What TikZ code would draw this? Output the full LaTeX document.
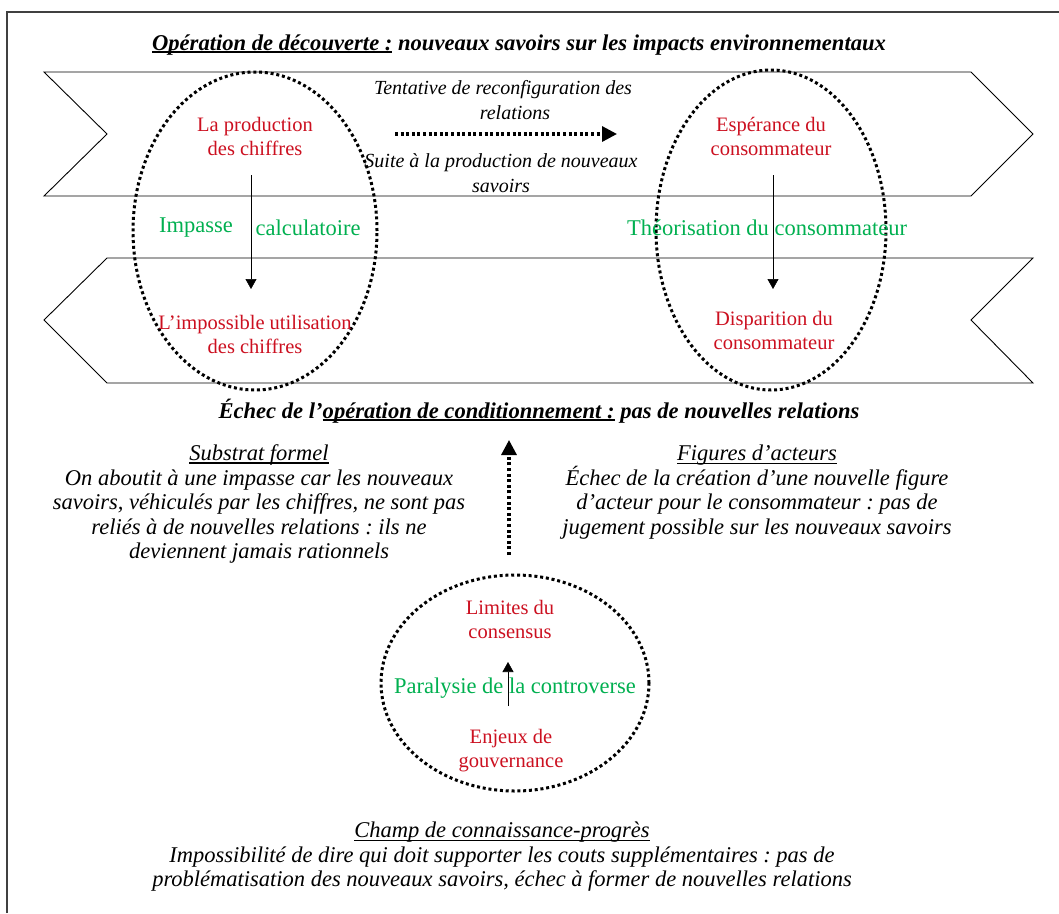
\documentclass[tikz,border=0pt]{standalone}
\usepackage{fontspec}
\setmainfont{Liberation Serif}
\usetikzlibrary{arrows.meta,shapes.geometric}
\definecolor{myred}{RGB}{204,16,32}
\definecolor{mygreen}{RGB}{0,176,80}
\newcommand{\myul}[2][1.1pt]{\leavevmode\setbox0\hbox{#2}\rlap{\rule[-3pt]{\wd0}{#1}}\box0\relax}
\begin{document}
\frenchspacing
\begin{tikzpicture}[x=1pt,y=-1pt,
  redtxt/.style={text=myred,font=\fontsize{20.5}{24}\selectfont,align=center,inner sep=0},
  greentxt/.style={text=mygreen,font=\fontsize{22.5}{24}\selectfont,inner sep=0},
  ittxt/.style={font=\fontsize{20}{24.5}\selectfont\itshape,align=center,inner sep=0},
  paratxt/.style={font=\fontsize{22.5}{24.5}\selectfont\itshape,align=center,inner sep=0},
  bolditxt/.style={font=\fontsize{22.6}{24}\selectfont\bfseries\itshape,inner sep=0},
  chev/.style={draw=black,line width=0.9pt},
  dotell/.style={draw=black,ellipse,line width=3pt,dash pattern=on 3pt off 2.8pt,inner sep=0,outer sep=0},
  arr/.style={line width=0.6pt,-{Triangle[length=10pt,width=11pt]}},
  dotarr/.style={line width=3.2pt,dash pattern=on 3pt off 2.6pt,-{Triangle[length=15pt,width=15pt]}},
  frameline/.style={draw=black!75,line width=1.6pt}
]
\useasboundingbox (0,0) rectangle (1059,913);
\fill[white] (0,0) rectangle (1059,913);
\draw[frameline] (7,913) -- (7,12) -- (1059,12);

% chevrons
\draw[chev] (44,72) -- (971,72) -- (1033,134) -- (971,196) -- (44,196) -- (107,134) -- cycle;
\draw[chev] (107,258) -- (1033,258) -- (971,320) -- (1033,383) -- (107,383) -- (44,320) -- cycle;

% dotted ellipses
\node[dotell,minimum width=244pt,minimum height=318pt] (ellL) at (255,231) {};
\node[dotell,minimum width=230pt,minimum height=320pt] (ellR) at (771,230) {};
\node[dotell,minimum width=268pt,minimum height=216pt] (ellB) at (515,683) {};

% title
\node[bolditxt] (title) at (519,45) {\myul[2pt]{Opération de découverte :} nouveaux savoirs sur les impacts environnementaux};

% top middle
\node[ittxt] (tentative) at (503,100) {Tentative de reconfiguration des\\relations\hspace*{-24pt}};
\node[ittxt] (suite) at (501,173) {Suite à la production de nouveaux\\savoirs};
\coordinate (tas) at (395,134);
\coordinate (tae) at (617,134);
\draw[dotarr] (tas) -- (tae);

% red/green texts
\node[redtxt] (prod) at (255,136) {La production\\des chiffres};
\node[redtxt] (esper) at (771,136) {Espérance du\\consommateur};
\node[greentxt] (impasse) at (196,228) {Impasse};
\node[greentxt] (calcul) at (308,228) {calculatoire};
\node[greentxt] (theor) at (767,228) {Théorisation du consommateur};
\node[redtxt] (imposs) at (255,334) {L’impossible utilisation\\des chiffres};
\node[redtxt] (dispar) at (774,330) {Disparition du\\consommateur};

\coordinate (la1) at (251,175);
\coordinate (la2) at (251,289);
\draw[arr] (la1) -- (la2);
\coordinate (ra1) at (773,175);
\coordinate (ra2) at (773,289);
\draw[arr] (ra1) -- (ra2);

% echec title
\node[bolditxt] (echec) at (539,411) {Échec de l’\myul[2pt]{opération de conditionnement :} pas de nouvelles relations};

% paragraphs
\node[paratxt] (substrat) at (259,504) {\myul{Substrat formel}\\On aboutit à une impasse car les nouveaux\\savoirs, véhiculés par les chiffres, ne sont pas\\reliés à de nouvelles relations : ils ne\\deviennent jamais rationnels};
\node[paratxt] (figures) at (757,492) {\myul{Figures d’acteurs}\\Échec de la création d’une nouvelle figure\\d’acteur pour le consommateur : pas de\hspace*{22pt}\\jugement possible sur les nouveaux savoirs};

\coordinate (va1) at (509,555);
\coordinate (va2) at (509,440);
\draw[dotarr] (va1) -- (va2);

% bottom ellipse contents
\node[redtxt] (limites) at (510,619) {Limites du\\consensus};
\node[greentxt] (paralysie) at (515,688) {Paralysie de la controverse};
\node[redtxt] (enjeux) at (511,751) {Enjeux de\\gouvernance};
\coordinate (ba1) at (508,706);
\coordinate (ba2) at (508,662);
\draw[arr] (ba1) -- (ba2);

% bottom text
\node[paratxt] (champ) at (502,857) {\myul{Champ de connaissance-progrès}\\Impossibilité de dire qui doit supporter les couts supplémentaires : pas de\\problématisation des nouveaux savoirs, échec à former de nouvelles relations};
\end{tikzpicture}
\end{document}
